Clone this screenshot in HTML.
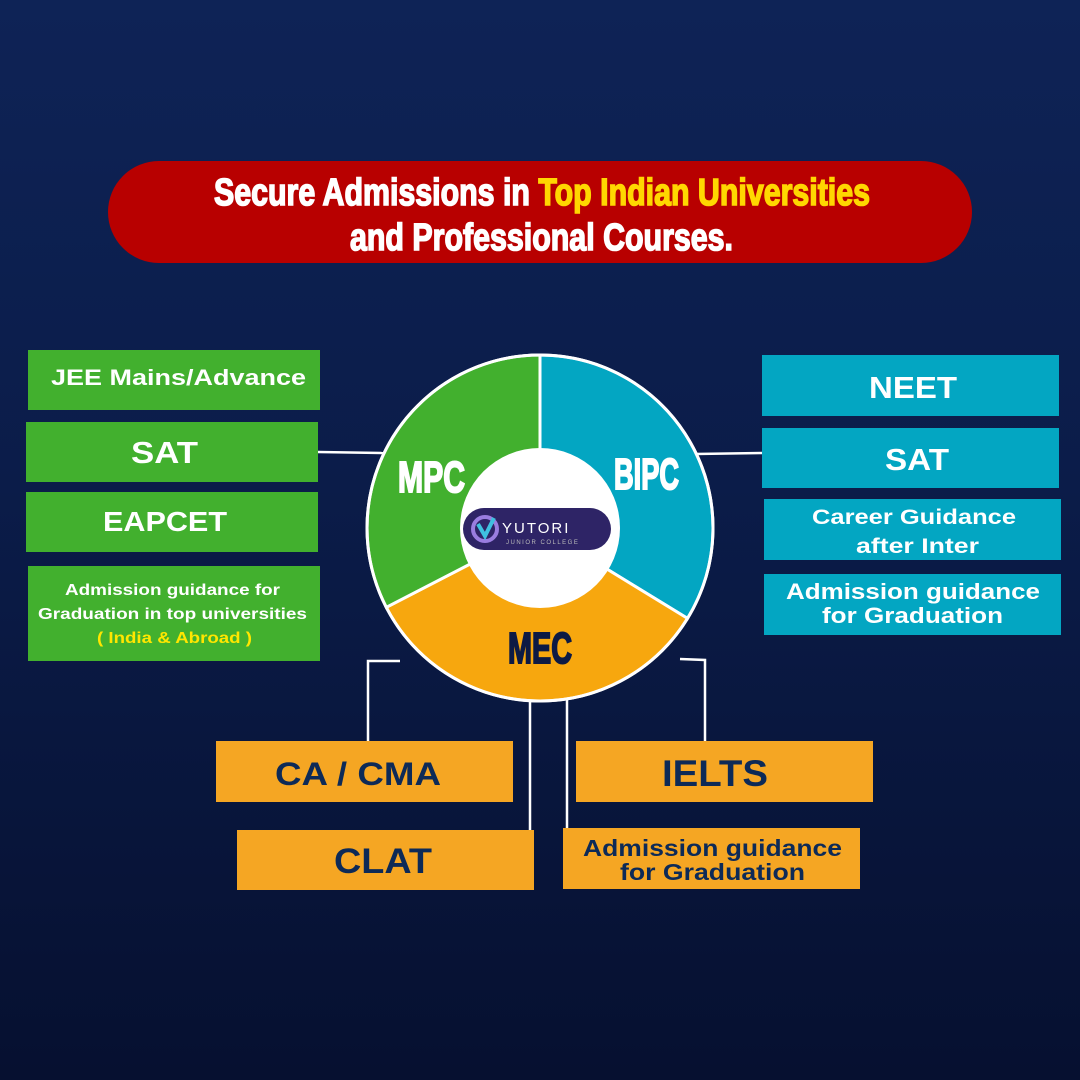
<!DOCTYPE html>
<html><head><meta charset="utf-8"><style>
html,body{margin:0;padding:0}
body{width:1080px;height:1080px;overflow:hidden;background:linear-gradient(#0e2356 0%,#0b1c49 45%,#061030 100%);font-family:"Liberation Sans",sans-serif}
svg{display:block}
</style></head><body>
<svg width="1080" height="1080" viewBox="0 0 1080 1080" xmlns="http://www.w3.org/2000/svg" font-family="Liberation Sans, sans-serif" font-weight="bold">
<rect x="108" y="161" width="864" height="102" rx="51" fill="#b80000"/>
<text x="214" y="205" font-size="38" fill="#fff" stroke="#fff" stroke-width="1.6" textLength="656" lengthAdjust="spacingAndGlyphs">Secure Admissions in <tspan fill="#ffd700" stroke="#ffd700">Top Indian Universities</tspan></text>
<text x="350" y="250" font-size="38" fill="#fff" stroke="#fff" stroke-width="1.6" textLength="383" lengthAdjust="spacingAndGlyphs">and Professional Courses.</text>

<g stroke="#fff" stroke-width="2.5" fill="none">
<line x1="318" y1="452" x2="385" y2="453"/>
<line x1="695" y1="454" x2="762" y2="453"/>
<polyline points="400,661 368,661 368,741"/>
<line x1="530" y1="695" x2="530" y2="830"/>
<line x1="567" y1="695" x2="567" y2="828"/>
<polyline points="680,659 705,660 705,741"/>
</g>

<path d="M540,528 L540,355 A173,173 0 0 1 687.5,618.4 Z" fill="#03a6c2" stroke="#fff" stroke-width="3"/>
<path d="M540,528 L687.5,618.4 A173,173 0 0 1 386.3,607.3 Z" fill="#f7a70e" stroke="#fff" stroke-width="3"/>
<path d="M540,528 L386.3,607.3 A173,173 0 0 1 540,355 Z" fill="#42b02e" stroke="#fff" stroke-width="3"/>
<circle cx="540" cy="528" r="173" fill="none" stroke="#fff" stroke-width="3"/>
<circle cx="540" cy="528" r="80" fill="#fff"/>
<text x="398" y="492" font-size="44" fill="#fff" stroke="#fff" stroke-width="2" textLength="67" lengthAdjust="spacingAndGlyphs">MPC</text>
<text x="614" y="489" font-size="44" fill="#fff" stroke="#fff" stroke-width="2" textLength="65" lengthAdjust="spacingAndGlyphs">BIPC</text>
<text x="508" y="663" font-size="44" fill="#0d1a44" stroke="#0d1a44" stroke-width="2" textLength="64" lengthAdjust="spacingAndGlyphs">MEC</text>

<rect x="463" y="508" width="148" height="42" rx="21" fill="#2e2466"/>
<circle cx="485" cy="529" r="12" fill="none" stroke="#9a7de0" stroke-width="4"/>
<path d="M478,524 L485,536 L494,518" stroke="#3fc0e0" stroke-width="4" fill="none"/>
<text x="502" y="533" font-size="15" fill="#fff" font-weight="normal" letter-spacing="2">YUTORI</text>
<text x="506" y="544" font-size="6" fill="#bbb" font-weight="normal" letter-spacing="1.5">JUNIOR COLLEGE</text>

<g fill="#42b02e">
<rect x="28" y="350" width="292" height="60"/>
<rect x="26" y="422" width="292" height="60"/>
<rect x="26" y="492" width="292" height="60"/>
<rect x="28" y="566" width="292" height="95"/>
</g>
<g fill="#fff">
<text x="51" y="385" font-size="22" textLength="255" lengthAdjust="spacingAndGlyphs">JEE Mains/Advance</text>
<text x="131" y="463" font-size="31" textLength="67" lengthAdjust="spacingAndGlyphs">SAT</text>
<text x="103" y="531" font-size="28" textLength="124" lengthAdjust="spacingAndGlyphs">EAPCET</text>
<text x="65" y="595" font-size="16" textLength="215" lengthAdjust="spacingAndGlyphs">Admission guidance for</text>
<text x="38" y="619" font-size="16" textLength="269" lengthAdjust="spacingAndGlyphs">Graduation in top universities</text>
<text x="97" y="643" font-size="16" fill="#ffe600" textLength="155" lengthAdjust="spacingAndGlyphs">( India &amp; Abroad )</text>
</g>

<g fill="#03a6c2">
<rect x="762" y="355" width="297" height="61"/>
<rect x="762" y="428" width="297" height="60"/>
<rect x="764" y="499" width="297" height="61"/>
<rect x="764" y="574" width="297" height="61"/>
</g>
<g fill="#fff">
<text x="869" y="398" font-size="31" textLength="88" lengthAdjust="spacingAndGlyphs">NEET</text>
<text x="885" y="470" font-size="31" textLength="64" lengthAdjust="spacingAndGlyphs">SAT</text>
<text x="812" y="524" font-size="21" textLength="204" lengthAdjust="spacingAndGlyphs">Career Guidance</text>
<text x="856" y="553" font-size="21" textLength="123" lengthAdjust="spacingAndGlyphs">after Inter</text>
<text x="786" y="599" font-size="22" textLength="254" lengthAdjust="spacingAndGlyphs">Admission guidance</text>
<text x="822" y="623" font-size="22" textLength="181" lengthAdjust="spacingAndGlyphs">for Graduation</text>
</g>

<g fill="#f5a623">
<rect x="216" y="741" width="297" height="61"/>
<rect x="576" y="741" width="297" height="61"/>
<rect x="237" y="830" width="297" height="60"/>
<rect x="563" y="828" width="297" height="61"/>
</g>
<g fill="#0d2a57">
<text x="275" y="785" font-size="32" textLength="166" lengthAdjust="spacingAndGlyphs">CA / CMA</text>
<text x="662" y="786" font-size="37" textLength="106" lengthAdjust="spacingAndGlyphs">IELTS</text>
<text x="334" y="873" font-size="35" textLength="98" lengthAdjust="spacingAndGlyphs">CLAT</text>
<text x="583" y="856" font-size="23" textLength="259" lengthAdjust="spacingAndGlyphs">Admission guidance</text>
<text x="620" y="880" font-size="23" textLength="185" lengthAdjust="spacingAndGlyphs">for Graduation</text>
</g>
</svg>
</body></html>
